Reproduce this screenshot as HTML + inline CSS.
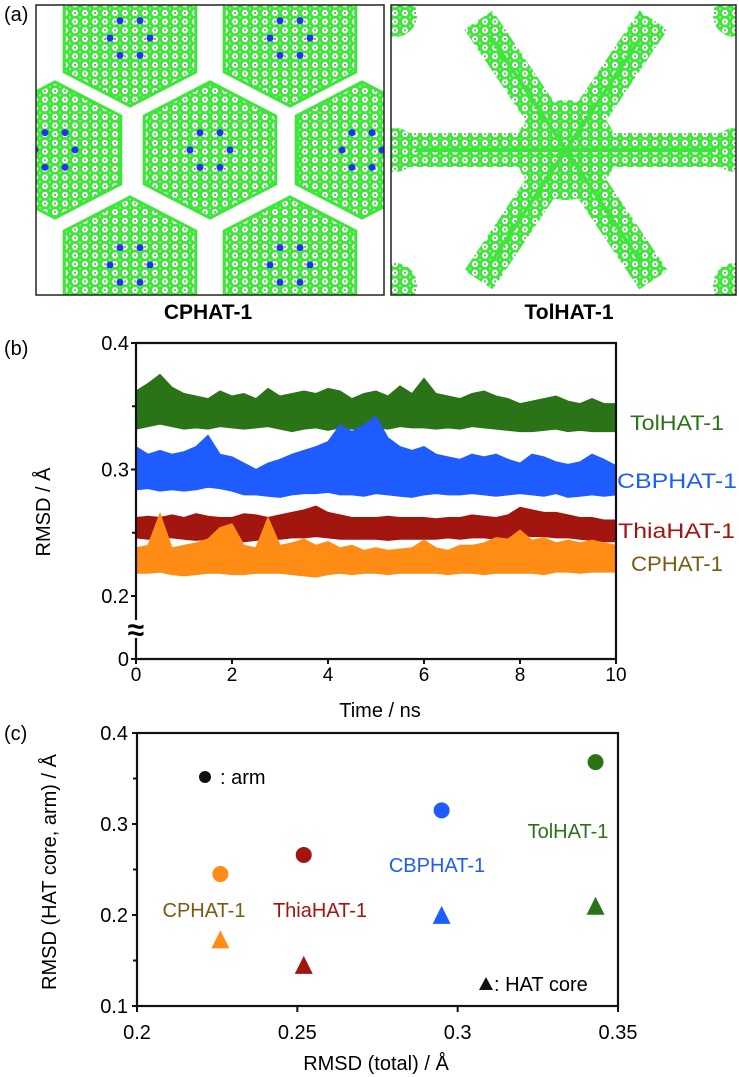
<!DOCTYPE html>
<html><head><meta charset="utf-8"><style>
html,body{margin:0;padding:0;background:#fff;}
svg{display:block;font-family:"Liberation Sans",sans-serif;}
</style></head><body>
<svg id="fig" width="739" height="1077" viewBox="0 0 739 1077" xmlns="http://www.w3.org/2000/svg">
<defs>
<pattern id="hexp" width="10" height="8.66" patternUnits="userSpaceOnUse">
<path d="M2.5,0 L7.5,0 L10,4.33 L7.5,8.66 L2.5,8.66 L0,4.33 Z" fill="none" stroke="#3ee63a" stroke-width="3"/>
<rect x="4" y="3.3" width="2" height="2" fill="#999"/>
</pattern>
<clipPath id="clipL"><rect x="36" y="5" width="348" height="290"/></clipPath>
<clipPath id="clipR"><rect x="391" y="5" width="345" height="290"/></clipPath>
</defs>
<text x="4" y="21" font-size="20">(a)</text>
<g id="panelA"></g>
<rect x="36" y="5" width="348" height="290" fill="none" stroke="#222" stroke-width="1.5"/>
<rect x="391" y="5" width="345" height="290" fill="none" stroke="#222" stroke-width="1.5"/>
<text x="208" y="319" font-size="21" font-weight="bold" text-anchor="middle">CPHAT-1</text>
<text x="569" y="319" font-size="21" font-weight="bold" text-anchor="middle">TolHAT-1</text>
<text x="4" y="355" font-size="20">(b)</text>
<g id="panelB"></g>
<text x="4" y="740" font-size="20">(c)</text>
<g id="panelC"></g>
</svg>
<script>
const NS="http://www.w3.org/2000/svg";
function mk(tag,attrs,parent){const e=document.createElementNS(NS,tag);for(const k in attrs)e.setAttribute(k,attrs[k]);parent.appendChild(e);return e;}

// ---------- Panel A (illustration) ----------
const A=document.getElementById('panelA');
const gL=mk('g',{'clip-path':'url(#clipL)'},A);
const molL=[[130,38],[290,38],[55,150],[210,150],[362,150],[130,265],[290,265]];
molL.forEach(c=>{let pts=[];for(let i=0;i<6;i++){const a=Math.PI/3*i+Math.PI/6;pts.push((c[0]+76*Math.cos(a)).toFixed(1)+','+(c[1]+68*Math.sin(a)).toFixed(1));}
 const p=mk('polygon',{points:pts.join(' '),fill:'url(#hexp)',stroke:'#3ee63a','stroke-width':3},gL);
 
 
 for(let i=0;i<6;i++){const a=Math.PI/3*i;const d=mk('circle',{cx:c[0]+20*Math.cos(a),cy:c[1]+20*Math.sin(a),r:3.5,fill:'#2233ee'},gL);
 
 }
});
const gR=mk('g',{'clip-path':'url(#clipR)'},A);
const cx=566,cy=150;
for(let i=0;i<6;i++){const a=Math.PI/3*i;
 const l=mk('line',{x1:cx,y1:cy,x2:cx+175*Math.cos(a),y2:cy+150*Math.sin(a),stroke:'url(#hexp)','stroke-width':34},gR);
 
 
 const l2=mk('line',{x1:cx,y1:cy,x2:cx+150*Math.cos(a),y2:cy+130*Math.sin(a),stroke:'#3ee63a','stroke-width':4},gR);
 
 }
const hc=mk('circle',{cx:cx,cy:cy,r:50,fill:'url(#hexp)'},gR);


[[395,15],[735,15],[395,285],[735,285],[395,150],[735,150]].forEach(c=>{const e=mk('circle',{cx:c[0],cy:c[1],r:22,fill:'url(#hexp)'},gR);
 
 });

// ---------- Panel B data ----------
const timeStart=0, timeStep=0.25;
const tolHi=[0.362,0.368,0.375,0.365,0.360,0.358,0.356,0.362,0.358,0.360,0.356,0.364,0.358,0.360,0.362,0.360,0.364,0.362,0.356,0.360,0.362,0.358,0.366,0.360,0.372,0.360,0.358,0.356,0.360,0.362,0.358,0.356,0.352,0.354,0.356,0.358,0.354,0.352,0.356,0.352,0.352];
const tolLo=[0.332,0.334,0.336,0.334,0.332,0.333,0.332,0.334,0.333,0.332,0.333,0.334,0.332,0.330,0.332,0.333,0.331,0.333,0.332,0.331,0.333,0.332,0.334,0.333,0.333,0.332,0.333,0.332,0.334,0.333,0.332,0.331,0.330,0.330,0.331,0.332,0.330,0.331,0.330,0.330,0.330];
const cbpHi=[0.318,0.312,0.315,0.312,0.314,0.318,0.327,0.312,0.310,0.305,0.300,0.305,0.308,0.312,0.315,0.318,0.322,0.335,0.330,0.335,0.342,0.325,0.318,0.315,0.318,0.312,0.310,0.308,0.312,0.310,0.312,0.308,0.305,0.312,0.310,0.306,0.304,0.306,0.312,0.308,0.303];
const cbpLo=[0.284,0.285,0.283,0.284,0.283,0.284,0.286,0.285,0.283,0.280,0.280,0.279,0.278,0.280,0.281,0.281,0.282,0.280,0.280,0.279,0.281,0.280,0.279,0.278,0.280,0.281,0.280,0.280,0.281,0.280,0.279,0.280,0.281,0.280,0.279,0.281,0.278,0.279,0.280,0.279,0.280];
const thiaHi=[0.262,0.263,0.262,0.264,0.262,0.265,0.263,0.262,0.262,0.265,0.264,0.262,0.264,0.266,0.268,0.271,0.266,0.264,0.262,0.262,0.262,0.263,0.262,0.262,0.262,0.261,0.262,0.262,0.264,0.263,0.262,0.264,0.270,0.268,0.266,0.266,0.264,0.262,0.262,0.260,0.260];
const thiaLo=[0.246,0.245,0.246,0.246,0.245,0.244,0.245,0.245,0.244,0.243,0.244,0.245,0.245,0.246,0.246,0.247,0.246,0.245,0.245,0.245,0.245,0.244,0.245,0.245,0.245,0.245,0.246,0.245,0.246,0.246,0.245,0.246,0.248,0.247,0.247,0.246,0.246,0.245,0.244,0.243,0.243];
const cpHi=[0.238,0.240,0.265,0.238,0.240,0.242,0.245,0.254,0.257,0.240,0.238,0.262,0.240,0.242,0.245,0.240,0.243,0.238,0.240,0.236,0.238,0.236,0.237,0.238,0.244,0.238,0.236,0.240,0.240,0.242,0.246,0.245,0.252,0.244,0.246,0.242,0.244,0.242,0.244,0.242,0.240];
const cpLo=[0.218,0.218,0.219,0.217,0.216,0.217,0.218,0.218,0.217,0.217,0.218,0.218,0.218,0.217,0.216,0.215,0.217,0.218,0.217,0.218,0.218,0.217,0.218,0.218,0.218,0.218,0.217,0.218,0.218,0.217,0.218,0.218,0.218,0.218,0.217,0.219,0.219,0.218,0.219,0.219,0.219];
const bXTicks=[0,2,4,6,8,10];
const bYTicks=[0,0.2,0.3,0.4];
const bYTickLabels=['0','0.2','0.3','0.4'];
const bSeriesNames=['TolHAT-1','CBPHAT-1','ThiaHAT-1','CPHAT-1'];

// ---------- Panel C data ----------
const cNames=['CPHAT-1','ThiaHAT-1','CBPHAT-1','TolHAT-1'];
const cTotal=[0.226,0.252,0.295,0.343];
const cArm=[0.245,0.266,0.315,0.368];
const cCore=[0.171,0.143,0.198,0.208];
const cXTicks=[0.2,0.25,0.3,0.35];
const cXTickLabels=['0.2','0.25','0.3','0.35'];
const cYTicks=[0.1,0.2,0.3,0.4];
const cYTickLabels=['0.1','0.2','0.3','0.4'];
const cYMinor=[0.15,0.25,0.35];

// ---------- Panel B draw ----------
const B=document.getElementById('panelB');
const bL=136,bR=616,bT=343,bB=659;
const bx=t=>bL+(t-0)/(10-0)*(bR-bL);
const byFix=v=>v===0?bB:596-(v-0.2)*1265;
const series=[[tolHi,tolLo,'#2a7417','tol'],[cbpHi,cbpLo,'#1f5cff','cbp'],[thiaHi,thiaLo,'#a3150f','thia'],[cpHi,cpLo,'#ff8c14','cp']];
series.forEach(s=>{const hi=s[0],lo=s[1];let pts=[];
 hi.forEach((v,i)=>pts.push(bx(timeStart+i*timeStep).toFixed(1)+','+byFix(v).toFixed(1)));
 for(let i=lo.length-1;i>=0;i--)pts.push(bx(timeStart+i*timeStep).toFixed(1)+','+byFix(lo[i]).toFixed(1));
 const p=mk('polygon',{points:pts.join(' '),fill:s[2],stroke:s[2],'stroke-width':1.2},B);
 
 });
const fr=mk('path',{d:`M${bL},${bT} H${bR} V${bB} H${bL} V${bT}`,fill:'none',stroke:'#111','stroke-width':2.2},B);


const brk=mk('rect',{x:bL-6,y:620,width:12,height:18,fill:'#fff'},B);


const bs=mk('text',{x:bL,y:640,'font-size':'30','font-weight':'bold','text-anchor':'middle'},B);bs.textContent='≈';


bXTicks.forEach(t=>{const l=mk('line',{x1:bx(t),y1:bB,x2:bx(t),y2:bB+5,stroke:'#111','stroke-width':2},B);
 
 
 const tx=mk('text',{x:bx(t),y:bB+22,'font-size':'19','text-anchor':'middle'},B);tx.textContent=t;
 
 });
bYTicks.forEach((v,i)=>{const y=byFix(v);const l=mk('line',{x1:bL-5,y1:y,x2:bL,y2:y,stroke:'#111','stroke-width':2},B);
 
 
 const tx=mk('text',{x:bL-7,y:y+7,'font-size':'20','text-anchor':'end'},B);tx.textContent=bYTickLabels[i];
 
 });
[0.35,0.25].forEach(v=>{const l=mk('line',{x1:bL-4,y1:byFix(v),x2:bL,y2:byFix(v),stroke:'#111','stroke-width':2},B);
 
 });
let t1=mk('text',{x:380,y:717,'font-size':'20','text-anchor':'middle'},B);t1.textContent='Time / ns';


let t2=mk('text',{x:0,y:0,'font-size':'20','text-anchor':'middle',transform:'translate(50,512) rotate(-90)'},B);t2.textContent='RMSD / Å';


const bLab=[[630,430,'#2a7417',94],[617,488,'#1f5cff',120],[618,538,'#a3150f',117],[631,571,'#7d5a12',92]];
bSeriesNames.forEach((n,i)=>{const tx=mk('text',{x:bLab[i][0],y:bLab[i][1],'font-size':'21',fill:bLab[i][2],textLength:bLab[i][3],lengthAdjust:'spacingAndGlyphs'},B);tx.textContent=n;
 
 });

// ---------- Panel C draw ----------
const C=document.getElementById('panelC');
const cL=137,cR=618,cT=733,cB=1006;
const cx2=v=>cL+(v-0.2)/(0.35-0.2)*(cR-cL);
const cy2=v=>cB-(v-0.1)/(0.4-0.1)*(cB-cT);
const cfr=mk('rect',{x:cL,y:cT,width:cR-cL,height:cB-cT,fill:'none',stroke:'#111','stroke-width':2.2},C);


cXTicks.forEach((v,i)=>{const l=mk('line',{x1:cx2(v),y1:cB,x2:cx2(v),y2:cB+6,stroke:'#111','stroke-width':2},C);
 
 
 const tx=mk('text',{x:cx2(v),y:cB+33,'font-size':'20','text-anchor':'middle'},C);tx.textContent=cXTickLabels[i];
 
 });
cYTicks.forEach((v,i)=>{const l=mk('line',{x1:cL-5,y1:cy2(v),x2:cL,y2:cy2(v),stroke:'#111','stroke-width':2},C);
 
 
 const tx=mk('text',{x:cL-9,y:cy2(v)+7,'font-size':'20','text-anchor':'end'},C);tx.textContent=cYTickLabels[i];
 
 });
cYMinor.forEach(v=>{const l=mk('line',{x1:cL-4,y1:cy2(v),x2:cL,y2:cy2(v),stroke:'#111','stroke-width':2},C);
 
 });
const cCol=['#ff8c14','#a3150f','#1f5cff','#2a7417'];
const cLabCol=['#7d5a12','#a3150f','#1f5cff','#2a7417'];
const cLabPos=[[204,917],[320,917],[437,872],[568,838]];
cNames.forEach((n,i)=>{
 const c=mk('circle',{cx:cx2(cTotal[i]),cy:cy2(cArm[i]),r:8,fill:cCol[i]},C);
 
 
 const x=cx2(cTotal[i]),y=cy2(cCore[i]);
 const tr=mk('polygon',{points:`${x},${y-11} ${x-9},${y+7} ${x+9},${y+7}`,fill:cCol[i]},C);
 
 
 const tx=mk('text',{x:cLabPos[i][0],y:cLabPos[i][1],'font-size':'20','text-anchor':'middle',fill:cLabCol[i]},C);tx.textContent=n;
 
 });
const lc=mk('circle',{cx:205,cy:777,r:6,fill:'#111'},C);


let la=mk('text',{x:220,y:784,'font-size':'20'},C);la.textContent=': arm';


const lt=mk('polygon',{points:'486,977 479,990 493,990',fill:'#111'},C);


let lb=mk('text',{x:494,y:991,'font-size':'20'},C);lb.textContent=': HAT core';


let cxT=mk('text',{x:376,y:1070,'font-size':'20','text-anchor':'middle'},C);cxT.textContent='RMSD (total) / Å';


let cyT=mk('text',{x:0,y:0,'font-size':'20','text-anchor':'middle',transform:'translate(56,872) rotate(-90)'},C);cyT.textContent='RMSD (HAT core, arm) / Å';


</script>
</body></html>
